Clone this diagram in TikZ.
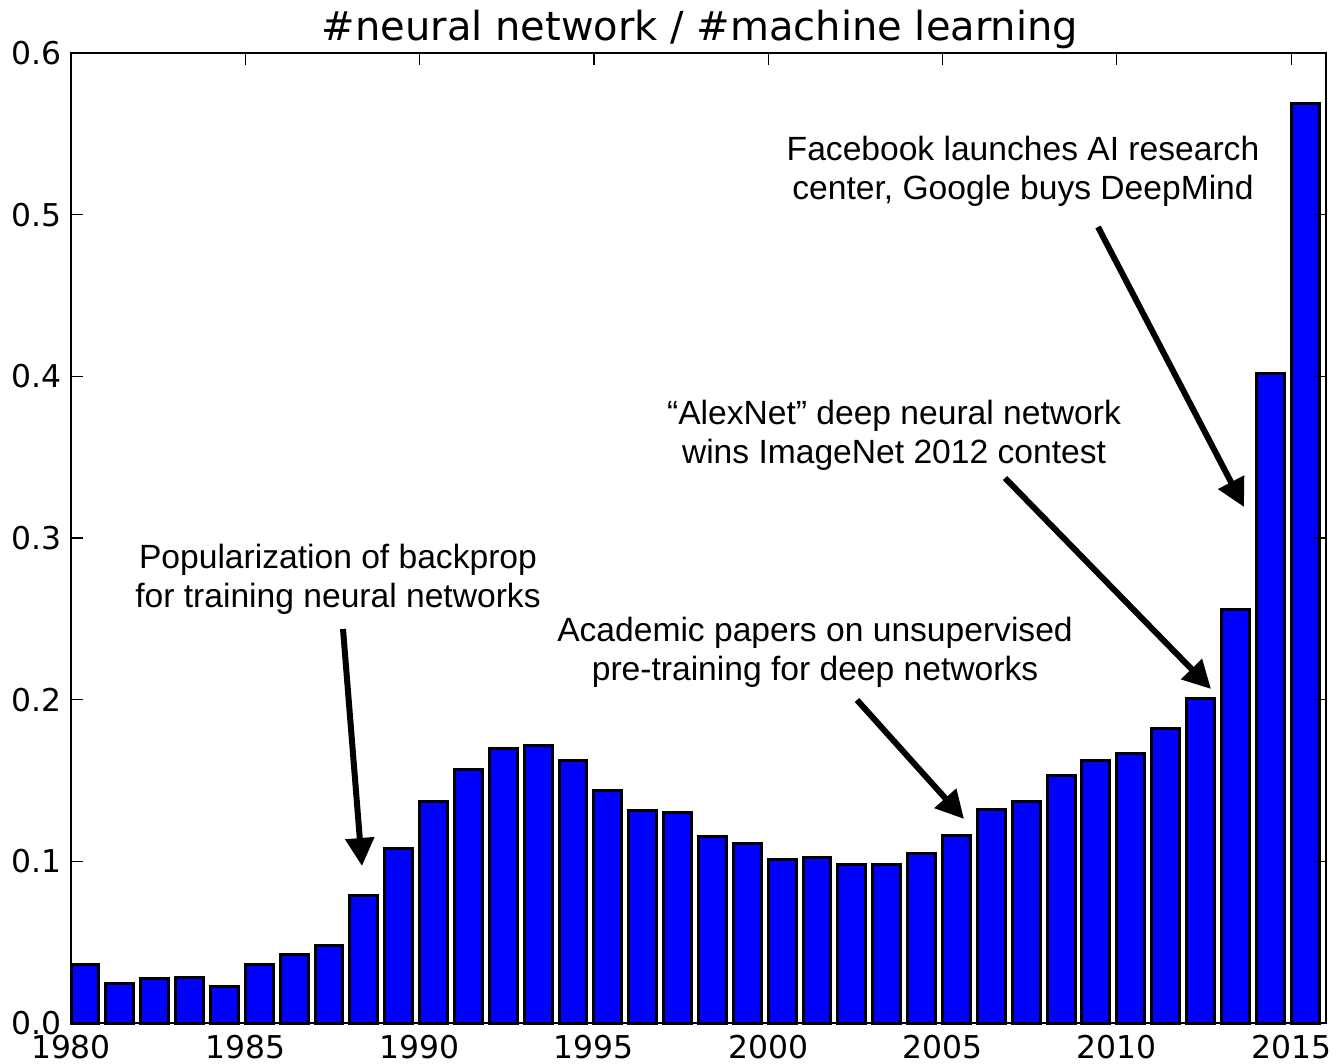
\documentclass[tikz,border=0pt]{standalone}
\usepackage{fontspec}
\setmainfont{Liberation Sans}
\newfontfamily\axisfont{DejaVu Sans}
\usetikzlibrary{arrows.meta}
\definecolor{barblue}{RGB}{0,0,255}
\tikzset{
  barstyle/.style={fill=barblue, draw=black, line width=1.5pt},
  frame/.style={draw=black, line width=1pt},
  tickmark/.style={draw=black, line width=0.6pt},
  ticklab/.style={font=\axisfont\fontsize{15.7}{18}\selectfont, inner sep=0pt},
  titlelab/.style={font=\axisfont\fontsize{20}{24}\selectfont, inner sep=0pt, anchor=base},
  annot/.style={font=\fontsize{16.8}{19.5}\selectfont, align=center, inner sep=0pt},
  callout/.style={draw=black, line width=3pt, -{Triangle[length=14pt,width=14pt]}}
}
\begin{document}
\begin{tikzpicture}[x=0.5pt,y=-0.5pt]
\useasboundingbox (0,0) rectangle (1337,1064);
\fill[white] (0,0) rectangle (1337,1064);
% bars
\foreach \yr/\val in {1980/0.0359,1981/0.0243,1982/0.0276,1983/0.0283,1984/0.0227,1985/0.0363,1986/0.0423,1987/0.0481,1988/0.0788,1989/0.1080,1990/0.1373,1991/0.1570,1992/0.1695,1993/0.1715,1994/0.1622,1995/0.1439,1996/0.1313,1997/0.1303,1998/0.1152,1999/0.1111,2000/0.1012,2001/0.1021,2002/0.0981,2003/0.0983,2004/0.1050,2005/0.1161,2006/0.1322,2007/0.1371,2008/0.1530,2009/0.1622,2010/0.1664,2011/0.1820,2012/0.2010,2013/0.2559,2014/0.4019,2015/0.5689}{
  \draw[barstyle] ({71+(\yr-1980)*34.861},1023) rectangle ({71+(\yr-1980+0.8)*34.861},{1023-\val*1616.67});
}
% ticks
\foreach \k in {0,...,7}{
  \draw[tickmark] ({71+\k*5*34.861},1023) -- ++(0,-12);
  \draw[tickmark] ({71+\k*5*34.861},53) -- ++(0,12);
}
\foreach \k in {0,...,6}{
  \draw[tickmark] (71,{1023-\k*161.667}) -- ++(12,0);
  \draw[tickmark] (1326,{1023-\k*161.667}) -- ++(-12,0);
}
% frame
\draw[frame] (71,53) rectangle (1326,1023);
% tick labels
\foreach \k/\lab in {0/1980,1/1985,2/1990,3/1995,4/2000,5/2005,6/2010,7/2015}{
  \node[ticklab, anchor=base] (xl\k) at ({71+\k*5*34.861},1058) {\lab};
}
\foreach \k/\lab in {0/0.0,1/0.1,2/0.2,3/0.3,4/0.4,5/0.5,6/0.6}{
  \node[ticklab, anchor=east, text depth=0pt] (yl\k) at (62,{1023-\k*161.667}) {\lab};
}
% title
\node[titlelab] (title) at (700,41) {\#neural network / \#machine learning};
% annotations (base = baseline of the last line)
\node[annot, anchor=base] (a1) at (338,607) {Popularization of backprop\\for training neural networks};
\node[annot, anchor=base] (a2) at (815,680) {Academic papers on unsupervised\\pre-training for deep networks};
\node[annot, anchor=base] (a3) at (894,463) {“AlexNet” deep neural network\\wins ImageNet 2012 contest};
\node[annot, anchor=base] (a4) at (1023,199) {Facebook launches AI research\\center, Google buys DeepMind};
% arrows
\coordinate (s1) at (343,629);  \coordinate (t1) at (362,866);
\coordinate (s2) at (857,700);  \coordinate (t2) at (964,819);
\coordinate (s3) at (1005,478); \coordinate (t3) at (1211,689);
\coordinate (s4) at (1098,227); \coordinate (t4) at (1244,507);
\draw[callout] (s1) -- (t1);
\draw[callout] (s2) -- (t2);
\draw[callout] (s3) -- (t3);
\draw[callout] (s4) -- (t4);
\end{tikzpicture}
\end{document}
